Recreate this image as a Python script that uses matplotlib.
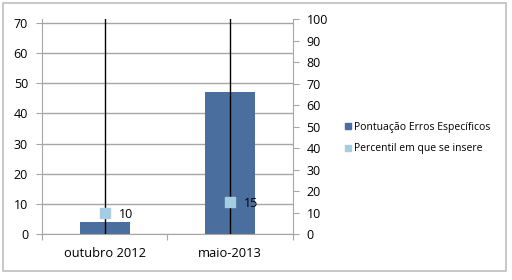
import matplotlib
matplotlib.use("Agg")
import matplotlib.pyplot as plt
from matplotlib.patches import Rectangle
from matplotlib.lines import Line2D

categories = ["outubro 2012", "maio-2013"]
pontuacao = [4, 47]
percentil = [10, 15]
left_ticks = [0, 10, 20, 30, 40, 50, 60, 70]
right_ticks = [0, 10, 20, 30, 40, 50, 60, 70, 80, 90, 100]

plt.rcParams['font.family'] = ['Open Sans', 'DejaVu Sans']
bar_color = "#4A6E9D"
mk_color = "#A5CDE2"
gray = "#A6A6A6"

fig = plt.figure(figsize=(5.12, 2.8), dpi=100)
fig.patches.append(Rectangle((0.006, 0.032), 0.983, 0.957, transform=fig.transFigure,
                             fill=False, edgecolor="#BFBFBF", linewidth=1.2))
ax = fig.add_axes([42/512, 1-234.3/280, (292.7-42)/512, (234.3-19.1)/280])
x = list(range(len(categories)))
ax.bar(x, pontuacao, width=0.4, color=bar_color, zorder=2)
ax.set_xlim(-0.5, 1.5)
ax.set_ylim(0, 71.25)
ax.set_yticks(left_ticks)
ax.yaxis.grid(True, color=gray, linewidth=1, zorder=0)
ax.set_axisbelow(True)
ax.set_xticks([-0.5, 0.5, 1.5], minor=False)
ax.set_xticklabels([])
ax.set_xticks(x, minor=True)
ax.set_xticklabels(categories, minor=True, fontsize=9.3)
ax.tick_params(axis='x', which='minor', length=0, pad=9)
ax.tick_params(axis='x', which='major', length=4, color=gray)
ax.tick_params(axis='y', labelsize=9, length=4, color=gray, pad=6)
for s in ["top", "right"]:
    ax.spines[s].set_visible(False)
for s in ["left", "bottom"]:
    ax.spines[s].set_color(gray)

ax2 = ax.twinx()
ax2.set_ylim(0, 100)
ax2.set_yticks(right_ticks)
ax2.tick_params(axis='y', labelsize=9, length=4, color=gray, pad=6)
for s in ["top", "left", "bottom"]:
    ax2.spines[s].set_visible(False)
ax2.spines["right"].set_color(gray)
for xi in x:
    ax2.plot([xi, xi], [0, 100], color="black", linewidth=1, zorder=3)
ax2.plot(x, percentil, linestyle="none", marker="s", markersize=7,
         color=mk_color, zorder=4)
for xi, v in zip(x, percentil):
    ax2.annotate(str(v), (xi, v), xytext=(10, -1), textcoords="offset points",
                 fontsize=9, va="center", ha="left")

handles = [Line2D([], [], linestyle="none", marker="s", markersize=5, color=bar_color),
           Line2D([], [], linestyle="none", marker="s", markersize=5, color=mk_color)]
fig.legend(handles, ["Pontuação Erros Específicos", "Percentil em que se insere"],
           loc="center left", bbox_to_anchor=(333/512, 1-138/280), frameon=False,
           fontsize=7.5, handletextpad=0.1, labelspacing=1.0, handlelength=1)

fig.savefig("out.png", dpi=100)
